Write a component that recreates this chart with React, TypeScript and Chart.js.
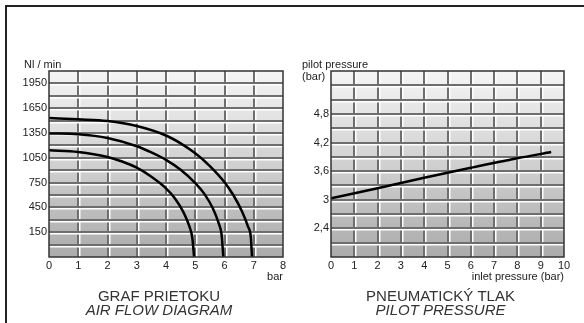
import React, { useEffect, useRef } from 'react';
import { Chart, registerables } from 'chart.js';

Chart.register(...registerables);

// ---------- data: air flow diagram ----------
const flowXMin = 0;
const flowXMax = 8;
const flowYMin = -150;
const flowYMax = 2100;
const flowYLabels = [150, 450, 750, 1050, 1350, 1650, 1950];

const curve5X = [0, 1, 2, 2.5, 3, 3.5, 4, 4.3, 4.6, 4.8, 4.9, 4.96];
const curve5Y = [1140, 1120, 1060, 1005, 930, 820, 680, 560, 390, 220, 80, -150];
const curve6X = [0, 1, 2, 3, 3.5, 4, 4.5, 5, 5.3, 5.6, 5.8, 5.9, 5.96];
const curve6Y = [1345, 1335, 1290, 1190, 1115, 1025, 905, 745, 620, 440, 260, 120, -150];
const curve7X = [0, 1, 2, 3, 4, 4.5, 5, 5.5, 6, 6.3, 6.6, 6.8, 6.9, 6.94];
const curve7Y = [1530, 1515, 1495, 1435, 1320, 1225, 1105, 950, 755, 600, 400, 220, 90, -150];

// ---------- data: pilot pressure ----------
const pilotXMin = 0;
const pilotXMax = 10;
const pilotYMin = 1.8;
const pilotYMax = 5.7;
const pilotYLabels = [2.4, 3, 3.6, 4.2, 4.8];
const pilotX = [0, 2, 4, 6, 8, 9.45];
const pilotY = [3.03, 3.24, 3.46, 3.67, 3.87, 4.0];

const FONT = '"Liberation Sans", Arial, sans-serif';
const NARROW = '"Liberation Sans Narrow", "Liberation Sans", Arial, sans-serif';

const toPoints = (xs: number[], ys: number[]) => xs.map((x, i) => ({ x, y: ys[i] }));

const panelPlugin = {
  id: 'panel',
  beforeDatasetsDraw(chart: any) {
    const { ctx, chartArea: a, scales } = chart;
    ctx.save();
    const g = ctx.createLinearGradient(0, a.top, 0, a.bottom);
    g.addColorStop(0, '#f5f5f5');
    g.addColorStop(1, '#ababab');
    ctx.fillStyle = g;
    ctx.fillRect(a.left, a.top, a.right - a.left, a.bottom - a.top);
    const xs = scales.x;
    const ys = scales.y;
    xs.ticks.forEach((t: any, i: number) => {
      if (i === 0 || i === xs.ticks.length - 1) return;
      const p = Math.round(xs.getPixelForValue(t.value));
      ctx.fillStyle = '#6e6e6e';
      ctx.fillRect(p - 1, a.top, 2, a.bottom - a.top);
      ctx.fillStyle = '#ffffff';
      ctx.fillRect(p + 1, a.top, 1.5, a.bottom - a.top);
    });
    ys.ticks.forEach((t: any, i: number) => {
      if (i === 0 || i === ys.ticks.length - 1) return;
      const p = Math.round(ys.getPixelForValue(t.value));
      ctx.fillStyle = '#6e6e6e';
      ctx.fillRect(a.left, p - 1, a.right - a.left, 2);
      ctx.fillStyle = '#ffffff';
      ctx.fillRect(a.left, p + 1, a.right - a.left, 1.5);
    });
    ctx.restore();
  },
  afterDatasetsDraw(chart: any) {
    const { ctx, chartArea: a } = chart;
    ctx.save();
    ctx.strokeStyle = '#333333';
    ctx.lineWidth = 1.5;
    ctx.strokeRect(a.left, a.top, a.right - a.left, a.bottom - a.top);
    ctx.restore();
  },
};

type Txt = { text: string; dx: number; dy: number; from: 'left' | 'right' | 'center'; align: CanvasTextAlign; font: string; color?: string };

const makeTextPlugin = (texts: Txt[]) => ({
  id: 'texts',
  afterDraw(chart: any) {
    const { ctx, chartArea: a } = chart;
    ctx.save();
    ctx.textBaseline = 'middle';
    texts.forEach((t) => {
      const bx = t.from === 'left' ? a.left : t.from === 'right' ? a.right : (a.left + a.right) / 2;
      ctx.font = t.font;
      ctx.fillStyle = t.color || '#222222';
      ctx.textAlign = t.align;
      ctx.fillText(t.text, bx + t.dx, a.bottom + t.dy);
    });
    ctx.restore();
  },
});

function fmtComma(v: number) {
  if (Math.abs(v - Math.round(v)) < 1e-6) return String(Math.round(v));
  return v.toFixed(1).replace('.', ',');
}

function buildConfig(opts: {
  datasets: any[];
  xMin: number; xMax: number;
  yMin: number; yMax: number; yStep: number;
  yLabels: number[];
  yFmt: (v: number) => string;
  yWidth: number;
  padRight: number;
  texts: Txt[];
}) {
  return {
    type: 'line' as const,
    data: { datasets: opts.datasets },
    options: {
      animation: false,
      responsive: false,
      devicePixelRatio: 1,
      layout: { padding: { left: 0, top: 71, right: opts.padRight, bottom: 0 } },
      plugins: { legend: { display: false }, tooltip: { enabled: false }, title: { display: false } },
      elements: { point: { radius: 0 } },
      scales: {
        x: {
          type: 'linear',
          min: opts.xMin,
          max: opts.xMax,
          grid: { display: false, drawTicks: false },
          border: { display: false },
          ticks: { stepSize: 1, padding: 2, color: '#222222', font: { family: FONT, size: 11 }, maxRotation: 0, autoSkip: false },
          afterFit: (s: any) => { s.height = 66; s.paddingLeft = 0; s.paddingRight = 0; },
        },
        y: {
          type: 'linear',
          min: opts.yMin,
          max: opts.yMax,
          grid: { display: false, drawTicks: false },
          border: { display: false },
          ticks: {
            stepSize: opts.yStep,
            padding: 2,
            color: '#222222',
            autoSkip: false,
            font: { family: FONT, size: 11 },
            callback: (v: any) => {
              const n = Number(v);
              return opts.yLabels.some((l) => Math.abs(l - n) < 1e-6) ? opts.yFmt(n) : '';
            },
          },
          afterFit: (s: any) => { s.width = opts.yWidth; s.paddingTop = 0; s.paddingBottom = 0; },
        },
      },
    },
    plugins: [panelPlugin, makeTextPlugin(opts.texts)],
  };
}

const lineStyle = {
  borderColor: '#000000',
  borderWidth: 2.5,
  fill: false,
  pointRadius: 0,
  cubicInterpolationMode: 'monotone' as const,
};

function ChartCanvas({ config, left }: { config: any; left: number }) {
  const ref = useRef<HTMLCanvasElement | null>(null);
  useEffect(() => {
    if (!ref.current) return;
    const c = new Chart(ref.current, config);
    return () => c.destroy();
  }, []);
  return (
    <canvas
      ref={ref}
      width={292}
      height={323}
      style={{ position: 'absolute', left, top: 0, width: 292, height: 323 }}
    />
  );
}

export default function App() {
  const flowConfig = buildConfig({
    datasets: [
      { ...lineStyle, data: toPoints(curve5X, curve5Y) },
      { ...lineStyle, data: toPoints(curve6X, curve6Y) },
      { ...lineStyle, data: toPoints(curve7X, curve7Y) },
    ],
    xMin: flowXMin, xMax: flowXMax,
    yMin: flowYMin, yMax: flowYMax, yStep: 150,
    yLabels: flowYLabels,
    yFmt: (v) => String(v),
    yWidth: 49,
    padRight: 9,
    texts: [
      { text: 'Nl / min', dx: -25, dy: -192, from: 'left', align: 'left', font: `11px ${FONT}` },
      { text: 'bar', dx: 0, dy: 20, from: 'right', align: 'right', font: `11px ${FONT}` },
      { text: 'GRAF PRIETOKU', dx: -7, dy: 40, from: 'center', align: 'center', font: `15px ${NARROW}`, color: '#333333' },
      { text: 'AIR FLOW DIAGRAM', dx: -7, dy: 54, from: 'center', align: 'center', font: `italic 15px ${NARROW}`, color: '#333333' },
    ],
  });

  const pilotConfig = buildConfig({
    datasets: [{ ...lineStyle, data: toPoints(pilotX, pilotY) }],
    xMin: pilotXMin, xMax: pilotXMax,
    yMin: pilotYMin, yMax: pilotYMax, yStep: 0.3,
    yLabels: pilotYLabels,
    yFmt: fmtComma,
    yWidth: 39,
    padRight: 20,
    texts: [
      { text: 'pilot pressure', dx: -29, dy: -192, from: 'left', align: 'left', font: `11px ${FONT}` },
      { text: '(bar)', dx: -29, dy: -180, from: 'left', align: 'left', font: `11px ${FONT}` },
      { text: 'inlet pressure (bar)', dx: 0, dy: 20, from: 'right', align: 'right', font: `11px ${FONT}` },
      { text: 'PNEUMATICKÝ TLAK', dx: -7, dy: 40, from: 'center', align: 'center', font: `15px ${NARROW}`, color: '#333333' },
      { text: 'PILOT PRESSURE', dx: -7, dy: 54, from: 'center', align: 'center', font: `italic 15px ${NARROW}`, color: '#333333' },
    ],
  });

  return (
    <div style={{ position: 'absolute', left: 0, top: 0, width: 584, height: 323, overflow: 'hidden', background: '#ffffff' }}>
      <div
        style={{
          position: 'absolute',
          left: 5,
          top: 5,
          width: 700,
          height: 500,
          borderLeft: '2px solid #222222',
          borderTop: '2px solid #222222',
          boxSizing: 'border-box',
        }}
      />
      <ChartCanvas config={flowConfig} left={0} />
      <ChartCanvas config={pilotConfig} left={292} />
    </div>
  );
}
